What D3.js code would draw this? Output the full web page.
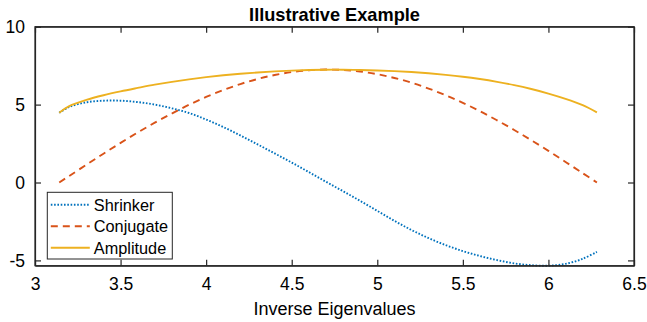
<!DOCTYPE html>
<html>
<head>
<meta charset="utf-8">
<script src="https://cdn.jsdelivr.net/npm/d3@7"></script>
<style>
  body { margin: 0; background: #fff; }
  text { font-family: "Liberation Sans", Arial, Helvetica, sans-serif; fill: #000; }
</style>
</head>
<body>
<div class="canvas"></div>
<script>
const xs = [3.1416, 3.2, 3.3, 3.4, 3.5, 3.6, 3.7, 3.8, 3.9, 4.0, 4.1, 4.2, 4.3, 4.4, 4.5, 4.6, 4.7,
  4.8, 4.9, 5.0, 5.1, 5.2, 5.3, 5.4, 5.5, 5.6, 5.7, 5.8, 5.9, 6.0, 6.1, 6.2, 6.2832]

const shrinker = [4.48, 4.85, 5.15, 5.25, 5.25, 5.16, 5.0, 4.76, 4.46, 4.04, 3.56, 3.02, 2.45, 1.87, 1.28, 0.67, 0.05,
  -0.56, -1.18, -1.82, -2.46, -3.05, -3.57, -4.02, -4.4, -4.72, -4.98, -5.19, -5.31, -5.34, -5.22, -4.9, -4.45]

const conjugate = [0, 0.42, 1.14, 1.85, 2.54, 3.21, 3.84, 4.43, 4.99, 5.49, 5.93, 6.32, 6.64, 6.9, 7.09, 7.2, 7.25,
  7.22, 7.12, 6.95, 6.71, 6.41, 6.03, 5.6, 5.11, 4.58, 3.99, 3.37, 2.71, 2.03, 1.32, 0.6, 0]

const amplitude = [4.48, 4.9, 5.3, 5.6, 5.85, 6.07, 6.28, 6.46, 6.62, 6.76, 6.88, 6.98, 7.06, 7.13, 7.18, 7.22, 7.24,
  7.24, 7.22, 7.19, 7.15, 7.09, 7.01, 6.91, 6.79, 6.64, 6.46, 6.25, 6.0, 5.71, 5.37, 4.96, 4.5]

const xTicks = [3, 3.5, 4, 4.5, 5, 5.5, 6, 6.5]
const yTicks = [-5, 0, 5, 10]

const seriesNames = ['Shrinker', 'Conjugate', 'Amplitude']
const seriesValues = [shrinker, conjugate, amplitude]
const colors = ['#0072BD', '#D95319', '#EDB120']
const dashes = ['1.6,1.7', '7,5', null]

const width = 647
const height = 322
const margin = { top: 26.7, left: 35, bottom: 56.3, right: 13 }
const graphWidth = width - margin.left - margin.right
const graphHeight = height - margin.top - margin.bottom

const svg = d3.select('.canvas')
  .append('svg')
    .attr('width', width)
    .attr('height', height)

const graph = svg.append('g')
  .attr('transform', `translate(${margin.left}, ${margin.top})`)

const x = d3.scaleLinear()
  .domain([3, 6.5])
  .range([0, graphWidth])

const y = d3.scaleLinear()
  .domain([d3.min(shrinker), 10])
  .range([graphHeight, 0])

// lines
const line = d3.line()
  .x(d => x(d[0]))
  .y(d => y(d[1]))
  .curve(d3.curveCatmullRom)

seriesValues.forEach((vals, i) => {
  graph.append('path')
    .datum(xs.map((xv, j) => [xv, vals[j]]))
    .attr('fill', 'none')
    .attr('stroke', colors[i])
    .attr('stroke-width', 1.9)
    .attr('stroke-dasharray', dashes[i])
    .attr('d', line)
})

// axes (box with ticks on all sides)
const axisColor = '#262626'
const tickLen = 6
const fmt = d => `${d}`

const xAxis = d3.axisBottom(x).tickValues(xTicks).tickFormat(fmt).tickSizeInner(-tickLen).tickSizeOuter(0).tickPadding(12)
const yAxis = d3.axisLeft(y).tickValues(yTicks).tickFormat(fmt).tickSizeInner(-tickLen).tickSizeOuter(0).tickPadding(10)
const xTop = d3.axisTop(x).tickValues(xTicks).tickSizeInner(-tickLen).tickSizeOuter(0).tickFormat('')
const yRight = d3.axisRight(y).tickValues(yTicks).tickSizeInner(-tickLen).tickSizeOuter(0).tickFormat('')

const xAxisGroup = graph.append('g').attr('transform', `translate(0, ${graphHeight})`).call(xAxis)
const yAxisGroup = graph.append('g').call(yAxis)
graph.append('g').call(xTop)
graph.append('g').attr('transform', `translate(${graphWidth}, 0)`).call(yRight)

graph.selectAll('.domain, .tick line')
  .attr('stroke', axisColor)
  .attr('stroke-width', 1.2)

graph.append('rect')
  .attr('width', graphWidth)
  .attr('height', graphHeight)
  .attr('fill', 'none')
  .attr('stroke', axisColor)
  .attr('stroke-width', 1.2)

xAxisGroup.selectAll('text')
  .attr('font-size', 17.5)
  .attr('fill', '#000')
yAxisGroup.selectAll('text')
  .attr('font-size', 17.5)
  .attr('fill', '#000')

// title and axis label
svg.append('text')
  .attr('x', margin.left + graphWidth / 2)
  .attr('y', 20.5)
  .attr('text-anchor', 'middle')
  .attr('font-size', 18.2)
  .attr('font-weight', 'bold')
  .text('Illustrative Example')

svg.append('text')
  .attr('x', margin.left + graphWidth / 2)
  .attr('y', 315)
  .attr('text-anchor', 'middle')
  .attr('font-size', 18)
  .text('Inverse Eigenvalues')

// legend
const legend = svg.append('g')
  .attr('transform', 'translate(47.3, 192.3)')

legend.append('rect')
  .attr('width', 125)
  .attr('height', 66.7)
  .attr('fill', '#fff')
  .attr('stroke', axisColor)
  .attr('stroke-width', 1)

seriesNames.forEach((name, i) => {
  const row = legend.append('g')
    .attr('transform', `translate(0, ${12.5 + i * 21.5})`)
  row.append('line')
    .attr('x1', 3.5)
    .attr('x2', 42.5)
    .attr('stroke', colors[i])
    .attr('stroke-width', 1.9)
    .attr('stroke-dasharray', dashes[i])
  row.append('text')
    .attr('x', 46.5)
    .attr('y', 6)
    .attr('font-size', 16.3)
    .text(name)
})
</script>
</body>
</html>
